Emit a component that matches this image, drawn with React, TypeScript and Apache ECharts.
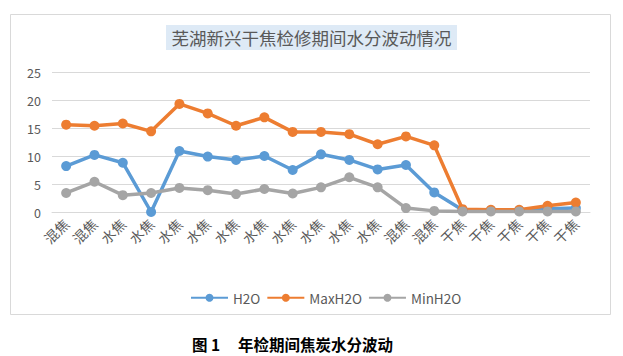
import React, { useEffect, useRef } from "react";
import * as echarts from "echarts";

const categories = ["混焦","混焦","水焦","水焦","水焦","水焦","水焦","水焦","水焦","水焦","水焦","水焦","混焦","混焦","干焦","干焦","干焦","干焦","干焦"];
const h2o = [8.2,10.2,8.8,0,10.9,9.9,9.3,10.0,7.5,10.3,9.3,7.6,8.4,3.5,0.35,0.3,0.3,0.6,0.7];
const maxH2o = [15.6,15.4,15.8,14.4,19.3,17.6,15.4,16.9,14.3,14.3,13.9,12.1,13.5,11.9,0.5,0.4,0.4,1.1,1.7];
const minH2o = [3.4,5.4,3.0,3.4,4.3,3.9,3.2,4.1,3.3,4.4,6.2,4.4,0.7,0.2,0.1,0.1,0.1,0.1,0.1];
const yTicks = [0, 25, 5];
const titleText = "芜湖新兴干焦检修期间水分波动情况";
const captionFig = "图 1";
const captionText = "年检期间焦炭水分波动";

export default function App() {
  const ref = useRef<HTMLDivElement>(null);
  useEffect(() => {
    if (!ref.current) return;
    const chart = echarts.init(ref.current, undefined, { renderer: "svg" });
    const font = "'Noto Sans CJK SC', 'Open Sans', sans-serif";
    const mk = (name: string, data: number[], color: string) => ({
      name,
      type: "line",
      data,
      symbol: "circle",
      symbolSize: 10,
      lineStyle: { width: 3.5, color },
      itemStyle: { color },
    });
    chart.setOption({
      animation: false,
      backgroundColor: "#ffffff",
      textStyle: { fontFamily: font },
      color: ["#5B9BD5", "#ED7D31", "#A5A5A5"],
      grid: { left: 52, right: 33, top: 72, bottom: 144 },
      legend: {
        top: 286,
        left: 185,
        itemWidth: 37,
        itemHeight: 10,
        itemGap: 6,
        textStyle: { color: "#595959", fontSize: 13.5, fontFamily: font },
        data: ["H2O", "MaxH2O", "MinH2O"],
      },
      xAxis: {
        type: "category",
        data: categories,
        boundaryGap: true,
        axisLine: { show: true, lineStyle: { color: "#d9d9d9" } },
        axisTick: { show: false },
        axisLabel: { rotate: 45, color: "#595959", fontSize: 14, margin: 9, interval: 0 },
      },
      yAxis: {
        type: "value",
        min: yTicks[0],
        max: yTicks[1],
        interval: yTicks[2],
        axisLine: { show: false },
        axisTick: { show: false },
        axisLabel: { color: "#595959", fontSize: 12.5, margin: 11 },
        splitLine: { lineStyle: { color: "#d9d9d9", width: 1 } },
      },
      graphic: [
        {
          type: "rect",
          shape: { x: 10.5, y: 14.5, width: 600, height: 300 },
          style: { fill: "none", stroke: "#d9d9d9", lineWidth: 1 },
          silent: true,
          z: -10,
        },
        {
          type: "rect",
          shape: { x: 166, y: 25, width: 291, height: 25 },
          style: { fill: "#DEEAF6" },
          z: 0,
        },
        {
          type: "text",
          x: 311.5,
          y: 37.5,
          style: {
            text: titleText,
            fill: "#595959",
            font: "17.5px " + font,
            align: "center",
            verticalAlign: "middle",
          },
          z: 1,
        },
        {
          type: "text",
          x: 192,
          y: 344,
          style: {
            text: captionFig,
            fill: "#000000",
            font: "bold 15.5px " + font,
            align: "left",
            verticalAlign: "middle",
          },
        },
        {
          type: "text",
          x: 238,
          y: 344,
          style: {
            text: captionText,
            fill: "#000000",
            font: "bold 15.5px " + font,
            align: "left",
            verticalAlign: "middle",
          },
        },
      ],
      series: [
        mk("H2O", h2o, "#5B9BD5"),
        mk("MaxH2O", maxH2o, "#ED7D31"),
        mk("MinH2O", minH2o, "#A5A5A5"),
      ],
    });
    return () => chart.dispose();
  }, []);
  return (
    <div style={{ position: "absolute", left: 0, top: 0 }}>
      <div ref={ref} style={{ width: 623, height: 356 }} />
    </div>
  );
}
